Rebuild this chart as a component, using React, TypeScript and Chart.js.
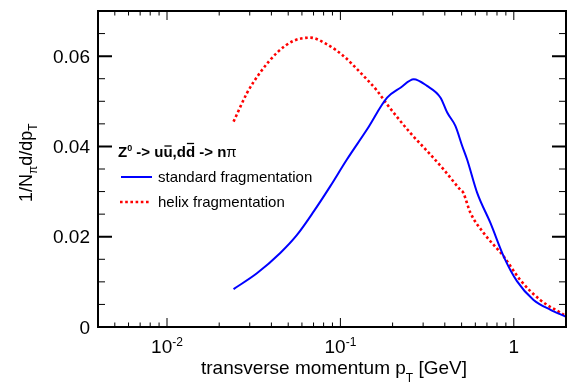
import React, { useEffect, useRef } from "react";
import { Chart, registerables } from "chart.js";

Chart.register(...registerables);

// ---- data ----
const standardX = [0.0242, 0.033, 0.045, 0.0562, 0.0702, 0.0875, 0.109, 0.1426, 0.186, 0.222, 0.265, 0.316, 0.378, 0.413, 0.461, 0.504, 0.538, 0.615, 0.734, 0.875, 1.045, 1.3, 1.63, 1.99];
const standardY = [0.0084, 0.0119, 0.0164, 0.0204, 0.0256, 0.0312, 0.0371, 0.0438, 0.0508, 0.053, 0.0549, 0.0534, 0.0508, 0.0475, 0.0445, 0.0401, 0.0371, 0.0297, 0.023, 0.0156, 0.0101, 0.006, 0.0038, 0.0023];
const helixX = [0.0242, 0.029, 0.0345, 0.0432, 0.0537, 0.067, 0.0838, 0.1045, 0.13, 0.163, 0.186, 0.253, 0.316, 0.394, 0.492, 0.51, 0.562, 0.671, 0.875, 1.09, 1.42, 1.95];
const helixY = [0.0455, 0.0519, 0.0564, 0.0608, 0.0634, 0.0641, 0.0626, 0.06, 0.0564, 0.0523, 0.0493, 0.043, 0.039, 0.0349, 0.0304, 0.0298, 0.0253, 0.0208, 0.0156, 0.0104, 0.006, 0.0027];

const seriesLabels = ["standard fragmentation", "helix fragmentation"];

// ---- axes ----
const xMin = 0.004;
const xMax = 2;
const yMin = 0;
const yMax = 0.07;
const yMajorTicks = [0, 0.02, 0.04, 0.06];
const yTickLabels = ["0", "0.02", "0.04", "0.06"];
const yMinorTicks = [0.005, 0.01, 0.015, 0.025, 0.03, 0.035, 0.045, 0.05, 0.055, 0.065];
const xMajorTicks = [0.01, 0.1, 1];
const xTickBase = ["10", "10", "1"];
const xTickExp = ["-2", "-1", ""];
const xMinorTicks = [0.005, 0.006, 0.007, 0.008, 0.009, 0.02, 0.03, 0.04, 0.05, 0.06, 0.07, 0.08, 0.09, 0.2, 0.3, 0.4, 0.5, 0.6, 0.7, 0.8, 0.9];

const FONT = '"Liberation Sans", Arial, Helvetica, sans-serif';

type Piece = { t: string; font: string; dy?: number; over?: number };

function richWidth(ctx: CanvasRenderingContext2D, pieces: Piece[]) {
  let w = 0;
  for (const p of pieces) {
    ctx.font = p.font;
    w += ctx.measureText(p.t).width;
  }
  return w;
}

function drawRich(ctx: CanvasRenderingContext2D, pieces: Piece[], x: number, y: number) {
  let cx = x;
  for (const p of pieces) {
    ctx.font = p.font;
    const w = ctx.measureText(p.t).width;
    ctx.fillText(p.t, cx, y + (p.dy || 0));
    if (p.over) {
      ctx.save();
      ctx.lineWidth = 1.3;
      ctx.beginPath();
      ctx.moveTo(cx + 1, y - p.over);
      ctx.lineTo(cx + w - 1, y - p.over);
      ctx.stroke();
      ctx.restore();
    }
    cx += w;
  }
}

const framePlugin = {
  id: "rootFrame",
  afterDraw(chart: any) {
    const { ctx, chartArea: a, scales } = chart;
    const xs = scales.x;
    const ys = scales.y;
    ctx.save();
    ctx.strokeStyle = "#000";
    ctx.fillStyle = "#000";

    // y ticks (left and right, inward)
    const yTick = (v: number, len: number, lw: number) => {
      const py = ys.getPixelForValue(v);
      ctx.lineWidth = lw;
      ctx.beginPath();
      ctx.moveTo(a.left, py);
      ctx.lineTo(a.left + len, py);
      ctx.moveTo(a.right, py);
      ctx.lineTo(a.right - len, py);
      ctx.stroke();
    };
    yMinorTicks.forEach((v) => yTick(v, 7, 1));
    yMajorTicks.forEach((v) => yTick(v, 14, 2));

    // x ticks (bottom and top, inward)
    const xTick = (v: number, len: number) => {
      const px = xs.getPixelForValue(v);
      ctx.lineWidth = 1;
      ctx.beginPath();
      ctx.moveTo(px, a.bottom);
      ctx.lineTo(px, a.bottom - len);
      ctx.moveTo(px, a.top);
      ctx.lineTo(px, a.top + len);
      ctx.stroke();
    };
    xMinorTicks.forEach((v) => xTick(v, 4.5));
    xMajorTicks.forEach((v) => xTick(v, 9));

    // frame
    ctx.lineWidth = 2;
    ctx.strokeRect(a.left, a.top, a.right - a.left, a.bottom - a.top);

    // y tick labels
    ctx.font = `19px ${FONT}`;
    ctx.textAlign = "right";
    ctx.textBaseline = "alphabetic";
    yMajorTicks.forEach((v, i) => {
      ctx.fillText(yTickLabels[i], a.left - 8, ys.getPixelForValue(v) + 6.5);
    });

    // x tick labels
    ctx.textAlign = "left";
    xMajorTicks.forEach((v, i) => {
      const pieces: Piece[] = [{ t: xTickBase[i], font: `19px ${FONT}` }];
      if (xTickExp[i]) pieces.push({ t: xTickExp[i], font: `12px ${FONT}`, dy: -7 });
      const w = richWidth(ctx, pieces);
      drawRich(ctx, pieces, xs.getPixelForValue(v) - w / 2, a.bottom + 26);
    });

    // x title
    const xTitle: Piece[] = [
      { t: "transverse momentum p", font: `19px ${FONT}` },
      { t: "T", font: `12px ${FONT}`, dy: 8 },
      { t: " [GeV]", font: `19px ${FONT}` },
    ];
    const xtw = richWidth(ctx, xTitle);
    drawRich(ctx, xTitle, 334 - xtw / 2, 374);

    // y title (rotated)
    ctx.save();
    ctx.translate(32, 202);
    ctx.rotate(-Math.PI / 2);
    drawRich(ctx, [
      { t: "1/N", font: `18px ${FONT}` },
      { t: "π", font: `12px ${FONT}`, dy: 5 },
      { t: "d/dp", font: `18px ${FONT}` },
      { t: "T", font: `12px ${FONT}`, dy: 5 },
    ], 0, 0);
    ctx.restore();

    // legend
    const B = `bold 15px ${FONT}`;
    drawRich(ctx, [
      { t: "Z", font: B },
      { t: "0", font: `bold 9px ${FONT}`, dy: -6 },
      { t: " -> u", font: B },
      { t: "u", font: B, over: 11 },
      { t: ",d", font: B },
      { t: "d", font: B, over: 13.5 },
      { t: " -> n", font: B },
      { t: "π", font: `15px ${FONT}` },
    ], 118, 157);

    ctx.lineWidth = 2;
    ctx.strokeStyle = "#0000ff";
    ctx.beginPath();
    ctx.moveTo(121, 177);
    ctx.lineTo(152, 177);
    ctx.stroke();

    ctx.strokeStyle = "#ff0000";
    ctx.lineWidth = 2.6;
    ctx.setLineDash([2.6, 2.6]);
    ctx.beginPath();
    ctx.moveTo(120, 202);
    ctx.lineTo(150, 202);
    ctx.stroke();
    ctx.setLineDash([]);

    ctx.fillStyle = "#000";
    ctx.font = `15px ${FONT}`;
    ctx.fillText(seriesLabels[0], 158, 182);
    ctx.fillText(seriesLabels[1], 158, 207);

    ctx.restore();
  },
};

export default function App() {
  const ref = useRef<HTMLCanvasElement | null>(null);

  useEffect(() => {
    if (!ref.current) return;
    const chart = new Chart(ref.current, {
      type: "scatter",
      data: {
        datasets: [
          {
            label: seriesLabels[0],
            data: standardX.map((x, i) => ({ x, y: standardY[i] })),
            showLine: true,
            borderColor: "#0000ff",
            borderWidth: 2,
            pointRadius: 0,
            cubicInterpolationMode: "monotone",
            fill: false,
          },
          {
            label: seriesLabels[1],
            data: helixX.map((x, i) => ({ x, y: helixY[i] })),
            showLine: true,
            borderColor: "#ff0000",
            borderWidth: 2.6,
            borderDash: [2.6, 2.6],
            borderCapStyle: "butt",
            pointRadius: 0,
            cubicInterpolationMode: "monotone",
            fill: false,
          },
        ],
      },
      options: {
        responsive: false,
        animation: false,
        layout: { padding: { left: 98, top: 11, right: 3, bottom: 57 } },
        scales: {
          x: { type: "logarithmic", min: xMin, max: xMax, display: false },
          y: { type: "linear", min: yMin, max: yMax, display: false },
        },
        plugins: { legend: { display: false }, tooltip: { enabled: false } },
      },
      plugins: [framePlugin],
    } as any);
    return () => chart.destroy();
  }, []);

  return (
    <div style={{ position: "fixed", left: 0, top: 0, width: 569, height: 384, background: "#fff" }}>
      <canvas ref={ref} width={569} height={384} style={{ display: "block" }} />
    </div>
  );
}
